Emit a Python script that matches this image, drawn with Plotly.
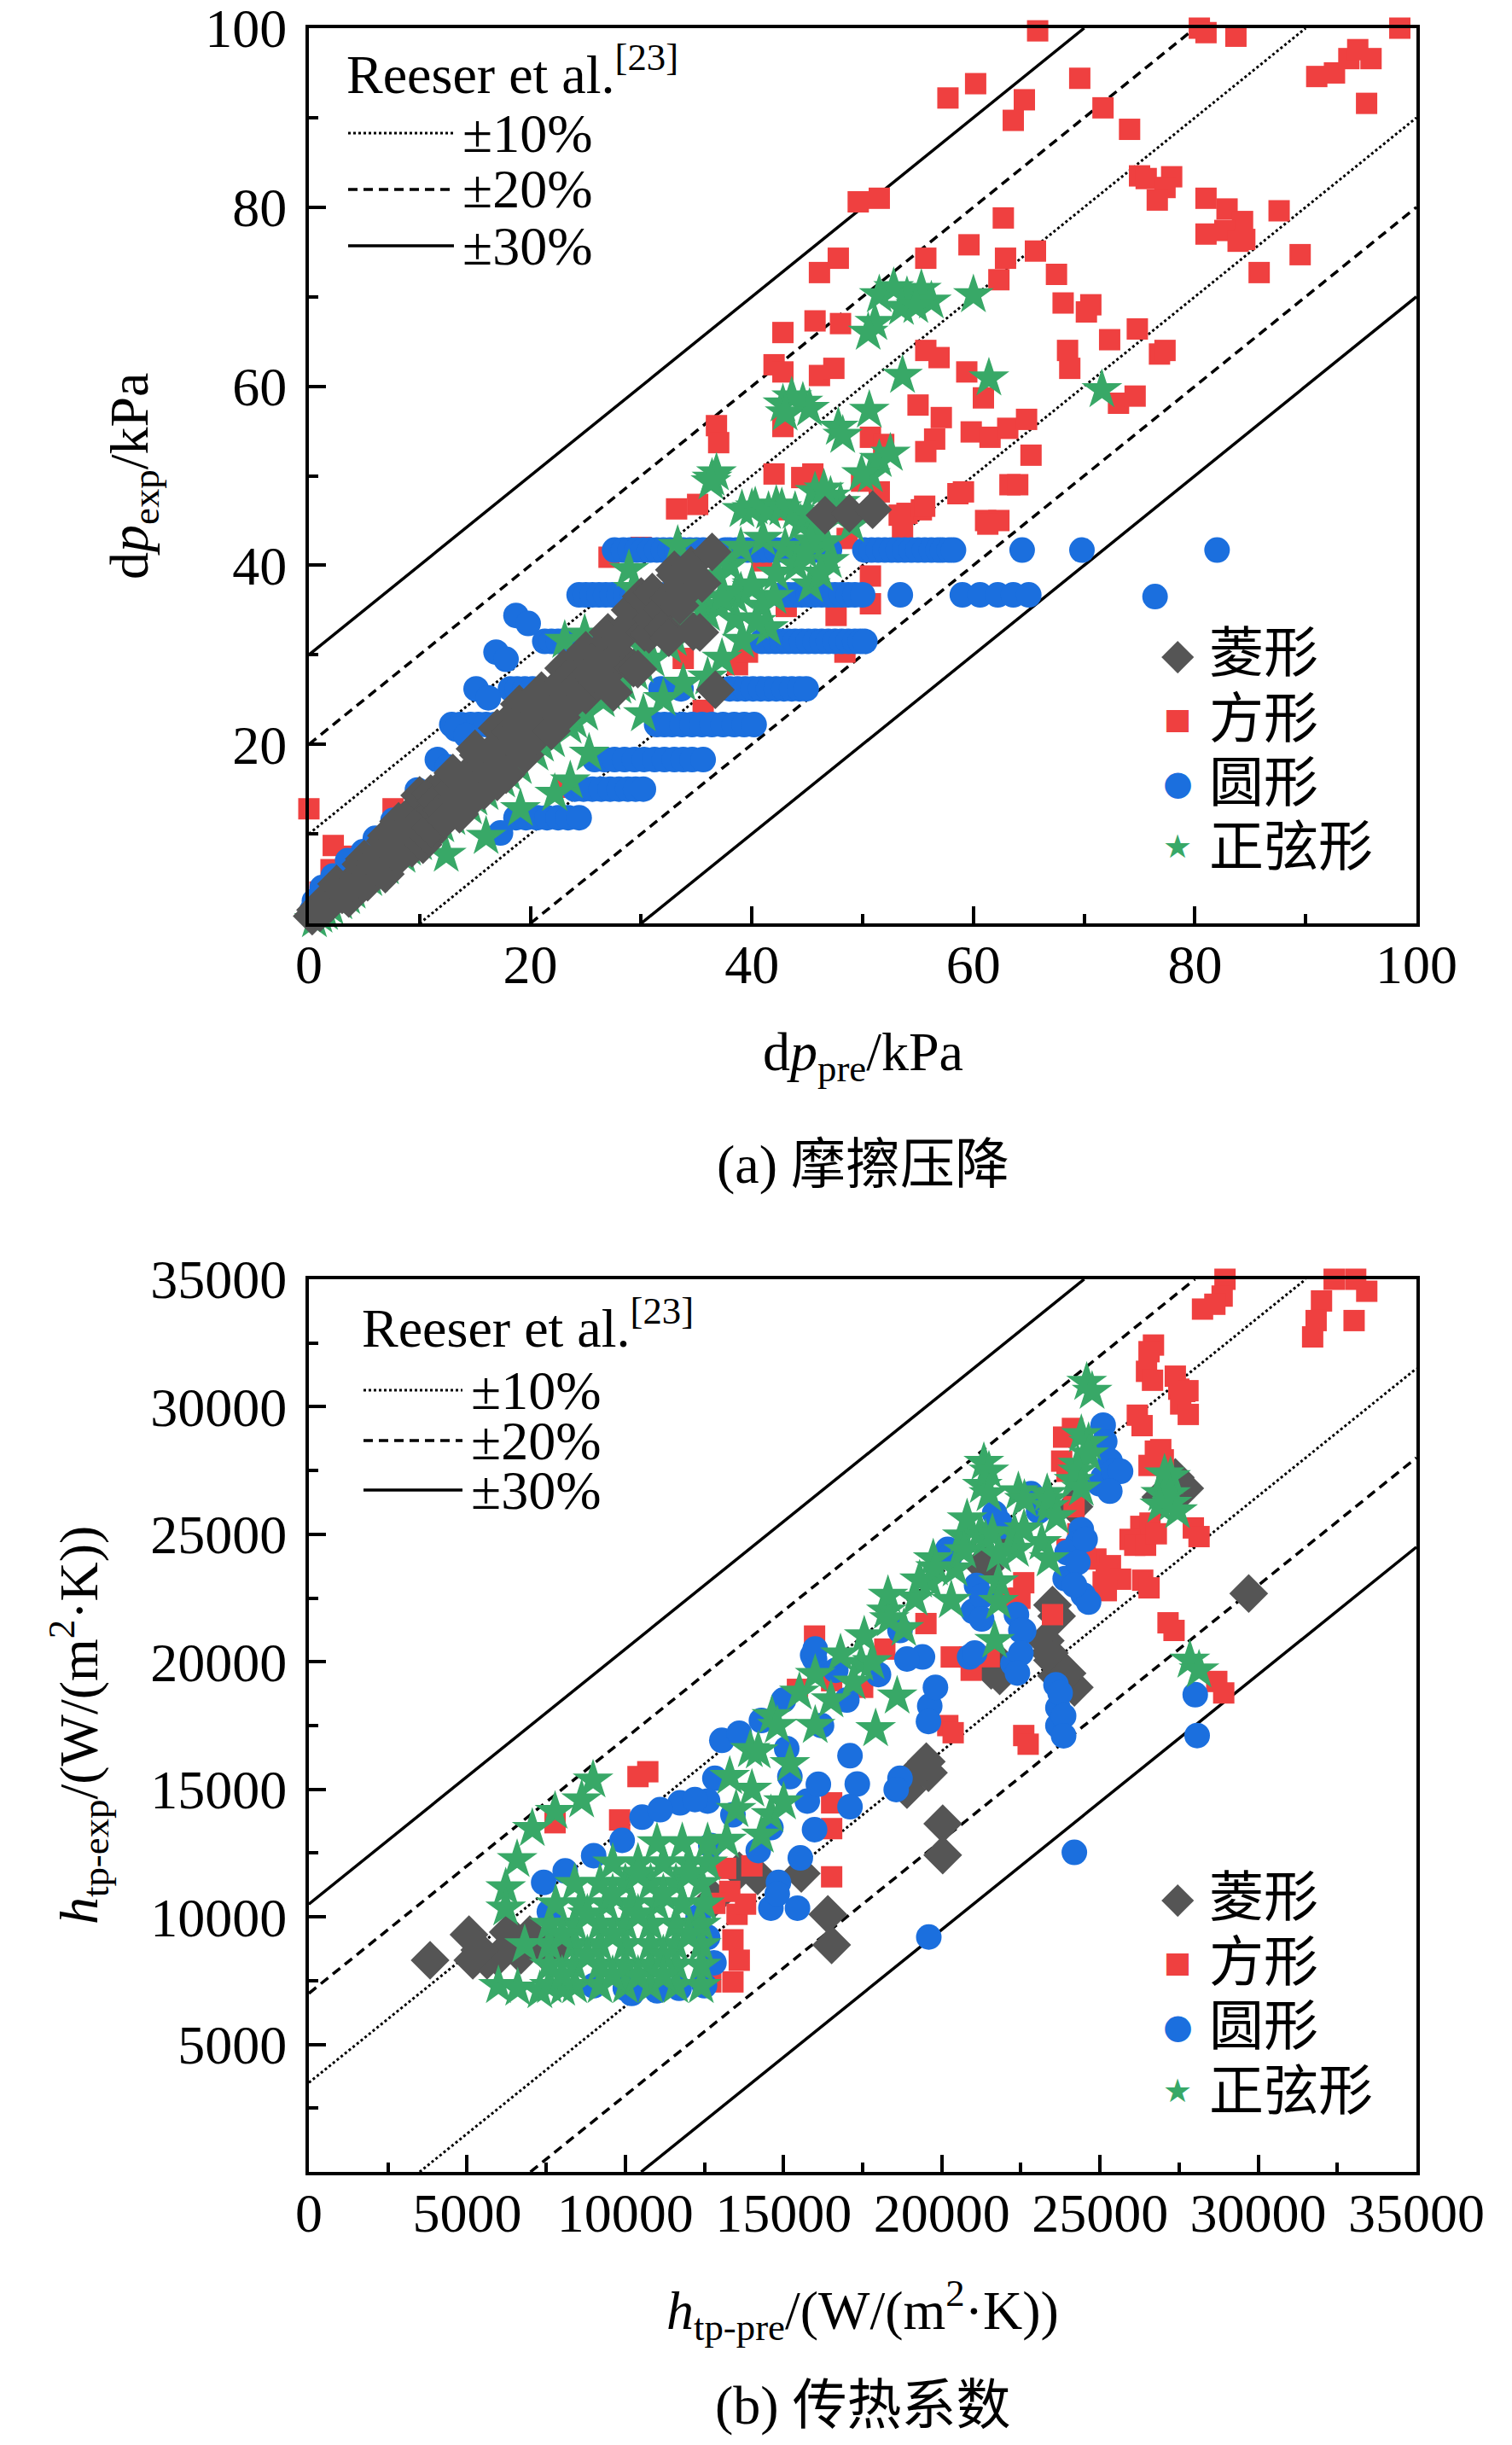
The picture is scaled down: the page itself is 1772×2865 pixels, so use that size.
import plotly.graph_objects as go

# ---------------- data ----------------
# (a) friction pressure drop, kPa  -> (dp_pre, dp_exp)
dp_diamond = [
    (0.3, 0.8), (0.6, 1.5), (1.0, 1.2), (1.3, 2.4), (1.5, 1.8), (1.9, 2.2), (2.0, 2.6), (2.4, 3.0),
    (2.5, 4.4), (3.0, 3.2), (3.2, 3.6), (3.5, 4.2), (3.6, 2.8), (4.0, 4.6), (4.5, 5.0), (4.7, 6.6),
    (5.0, 5.8), (5.0, 7.2), (5.3, 4.6), (5.6, 5.6), (6.0, 6.4), (6.2, 7.0), (6.5, 7.8), (6.9, 5.5),
    (6.9, 9.2), (7.0, 9.8), (7.4, 6.6), (7.5, 8.0), (8.0, 9.4), (8.1, 7.4), (8.1, 11.4), (8.6, 8.2),
    (9.0, 9.8), (9.0, 12.0), (9.3, 8.4), (9.5, 11.5), (9.6, 10.3), (10.0, 14.3), (10.3, 8.8),
    (10.5, 11.8), (10.8, 9.6), (11.0, 10.6), (11.0, 14.5), (11.4, 12.7), (11.5, 13.6), (12.0, 12.6),
    (12.3, 11.6), (12.5, 15.9), (13.0, 15.0), (13.0, 16.8), (13.4, 14.0), (13.6, 12.2), (14.0, 15.8),
    (14.4, 13.5), (14.8, 17.2), (15.0, 19.5), (15.3, 16.2), (15.3, 18.8), (15.8, 14.8), (16.0, 18.0),
    (16.5, 17.0), (16.8, 19.6), (17.0, 15.8), (17.0, 21.8), (17.5, 18.0), (17.8, 19.1), (17.8, 16.6),
    (18.2, 21.4), (18.6, 23.3), (18.8, 20.5), (19.0, 24.5), (19.2, 22.0), (19.5, 18.8), (20.0, 20.2),
    (20.0, 24.0), (20.5, 21.0), (20.8, 23.6), (21.0, 26.0), (21.2, 22.8), (21.5, 25.2), (21.9, 21.5),
    (22.0, 24.5), (22.5, 26.5), (22.8, 23.0), (23.0, 27.0), (23.0, 28.5), (23.5, 25.5), (23.6, 24.5),
    (24.0, 28.2), (24.5, 26.8), (24.7, 30.0), (25.0, 25.5), (25.0, 30.5), (25.5, 29.2), (25.8, 27.4),
    (26.0, 27.0), (26.5, 29.5), (27.0, 28.0), (27.0, 32.5), (27.1, 31.6), (27.5, 25.8), (28.0, 30.0),
    (28.1, 31.9), (29.0, 33.5), (29.0, 35.0), (29.3, 28.5), (29.7, 28.4), (30.0, 36.5), (30.3, 32.5),
    (30.7, 32.3), (31.0, 34.0), (31.0, 37.0), (31.9, 35.1), (32.0, 33.0), (32.5, 36.4), (32.5, 31.9),
    (33.0, 39.5), (33.1, 38.9), (33.5, 35.5), (34.0, 37.0), (34.5, 40.0), (34.7, 32.6), (35.3, 32.5),
    (35.5, 38.0), (36.4, 41.5), (36.7, 26.1), (46.6, 45.6), (48.8, 45.8), (50.9, 46.2),
]
dp_square = [
    (65.8, 99.7), (80.4, 100.0), (81.0, 99.5), (83.7, 99.1), (98.5, 100.0), (91.0, 94.6), (92.6, 95.0),
    (93.9, 96.6), (94.7, 97.6), (95.9, 96.6), (95.5, 91.6), (57.7, 92.2), (60.2, 93.8), (64.6, 92.0),
    (63.6, 89.7), (69.6, 94.4), (71.7, 91.1), (74.1, 88.7), (75.0, 83.5), (75.6, 83.2), (77.9, 83.4),
    (77.3, 82.2), (76.6, 80.8), (81.0, 81.0), (82.9, 79.8), (84.3, 78.4), (81.0, 77.0), (82.7, 77.4),
    (83.9, 76.2), (84.5, 76.4), (87.6, 79.6), (89.5, 74.7), (85.8, 72.7), (49.6, 80.6), (51.5, 81.0),
    (62.7, 78.8), (59.6, 75.8), (55.7, 74.3), (46.1, 72.7), (47.8, 74.3), (62.9, 74.3), (65.6, 75.1),
    (67.5, 72.5), (62.3, 71.9), (68.1, 69.3), (70.2, 68.3), (70.6, 69.1), (42.8, 66.0), (45.7, 67.3),
    (48.0, 67.0), (74.8, 66.4), (72.3, 65.2), (76.8, 63.6), (77.3, 64.0), (68.5, 64.0), (68.7, 62.0),
    (55.7, 64.0), (56.9, 63.2), (59.4, 61.6), (42.0, 62.4), (42.8, 61.6), (46.1, 61.2), (47.4, 62.0),
    (73.1, 58.1), (74.6, 58.9), (60.9, 58.7), (55.0, 57.9), (57.1, 56.5), (42.8, 55.5), (59.8, 54.9),
    (61.5, 54.3), (63.1, 55.3), (64.8, 56.3), (56.5, 54.1), (55.7, 52.7), (50.7, 54.3), (51.9, 53.5),
    (65.2, 52.3), (63.3, 49.0), (58.6, 48.0), (42.0, 50.2), (44.5, 49.8), (45.5, 50.2), (42.8, 46.2),
    (49.9, 49.4), (51.5, 48.2), (61.1, 45.0), (62.3, 45.0), (54.0, 45.8), (55.3, 46.2), (53.6, 44.2),
    (48.6, 43.0), (36.8, 55.6), (37.0, 53.7), (35.1, 46.8), (33.2, 46.3), (27.1, 40.9), (59.1, 48.2),
    (64.0, 49.0), (61.3, 44.6), (53.3, 45.6), (55.6, 46.6), (50.7, 38.8), (50.7, 35.7), (47.6, 34.4),
    (43.1, 35.4), (40.9, 40.5), (38.7, 28.9), (39.6, 30.3), (48.4, 30.3), (33.8, 29.6), (35.6, 23.8),
    (27.1, 30.9), (22.2, 25.1), (2.2, 8.7), (7.6, 12.8), (23.1, 15.2), (0.0, 12.8), (1.0, 3.5),
    (2.0, 6.0), (4.0, 7.5), (30.0, 42.0),
]
dp_circle = [
    # row near 41.7 kPa
    (27.6, 41.7), (28.4, 41.7), (29.0, 41.7), (29.6, 41.7), (30.2, 41.7), (30.8, 41.7), (31.4, 41.7),
    (32.0, 41.7), (32.6, 41.7), (33.2, 41.7), (33.8, 41.7), (34.4, 41.7), (35.0, 41.7), (35.6, 41.7),
    (37.6, 41.7), (38.0, 41.7), (38.6, 41.7), (39.0, 41.7), (39.6, 41.7), (40.4, 41.7), (41.0, 41.7),
    (41.6, 41.7), (42.2, 41.7), (42.8, 41.7), (43.4, 41.7), (44.0, 41.7), (44.6, 41.7), (45.2, 41.7),
    (45.8, 41.7), (46.4, 41.7), (47.0, 41.7), (50.2, 41.7), (50.8, 41.7), (51.4, 41.7), (52.0, 41.7),
    (52.6, 41.7), (53.2, 41.7), (53.8, 41.7), (54.4, 41.7), (55.0, 41.7), (55.6, 41.7), (56.2, 41.7),
    (56.8, 41.7), (57.2, 41.7), (57.8, 41.7), (58.2, 41.7), (64.4, 41.7), (69.8, 41.7), (82.0, 41.7),
    (76.4, 36.5),
    # row near 36.7 kPa
    (24.4, 36.7), (25.0, 36.7), (25.6, 36.7), (26.2, 36.7), (26.8, 36.7), (27.4, 36.7), (28.0, 36.7),
    (28.6, 36.7), (29.2, 36.7), (29.8, 36.7), (30.4, 36.7), (31.0, 36.7), (31.6, 36.7), (32.2, 36.7),
    (32.8, 36.7), (33.4, 36.7), (34.0, 36.7), (34.6, 36.7), (35.0, 36.7), (42.7, 36.7), (43.3, 36.7),
    (43.9, 36.7), (44.5, 36.7), (45.1, 36.7), (45.7, 36.7), (46.3, 36.7), (46.9, 36.7), (47.5, 36.7),
    (48.1, 36.7), (48.7, 36.7), (49.3, 36.7), (50.0, 36.7), (53.4, 36.7), (59.0, 36.7), (60.6, 36.7),
    (62.2, 36.7), (63.6, 36.7), (65.0, 36.7),
    # row near 31.5 kPa
    (21.3, 31.5), (21.9, 31.5), (22.5, 31.5), (23.1, 31.5), (23.7, 31.5), (24.3, 31.5), (25.0, 31.5),
    (25.6, 31.5), (26.2, 31.5), (40.9, 31.5), (41.5, 31.5), (42.1, 31.5), (42.7, 31.5), (43.3, 31.5),
    (43.9, 31.5), (44.5, 31.5), (45.1, 31.5), (45.7, 31.5), (46.3, 31.5), (46.9, 31.5), (47.5, 31.5),
    (48.1, 31.5), (48.7, 31.5), (49.3, 31.5), (49.8, 31.5), (50.2, 31.5),
    # row near 26.2 kPa
    (18.2, 26.2), (18.8, 26.2), (19.5, 26.2), (20.2, 26.2), (20.9, 26.2), (31.8, 26.2), (33.6, 26.2),
    (38.0, 26.2), (38.7, 26.2), (39.4, 26.2), (40.1, 26.2), (40.8, 26.2), (41.5, 26.2), (42.2, 26.2),
    (42.9, 26.2), (43.6, 26.2), (44.3, 26.2), (44.9, 26.2),
    # row near 22.2 kPa
    (12.9, 22.2), (13.7, 22.2), (14.6, 22.2), (15.3, 22.2), (16.0, 22.2), (16.8, 22.2), (17.6, 22.2),
    (31.4, 22.2), (32.1, 22.2), (32.8, 22.2), (33.7, 22.2), (34.6, 22.2), (35.5, 22.2), (36.4, 22.2),
    (37.4, 22.2), (38.4, 22.2), (39.3, 22.2), (40.2, 22.2),
    # row near 18.3 kPa
    (25.8, 18.3), (26.7, 18.3), (27.6, 18.3), (28.5, 18.3), (29.4, 18.3), (30.3, 18.3), (31.2, 18.3),
    (32.1, 18.3), (33.0, 18.3), (33.8, 18.3), (34.6, 18.3), (35.6, 18.3),
    # row near 15.0 kPa
    (24.0, 15.0), (24.8, 15.0), (25.6, 15.0), (26.4, 15.0), (27.2, 15.0), (28.0, 15.0), (28.8, 15.0),
    (29.5, 15.0), (30.2, 15.0),
    # row near 11.8 kPa
    (18.7, 11.8), (19.6, 11.8), (20.6, 11.8), (21.5, 11.8), (22.5, 11.8), (23.4, 11.8), (24.4, 11.8),
    (17.3, 10.1),
    # upper-left edge of the band
    (18.7, 34.4), (19.8, 33.5), (16.9, 30.3), (17.8, 29.5), (15.1, 26.2), (16.2, 25.2), (13.3, 21.7),
    (14.2, 21.0), (11.6, 18.3), (12.5, 17.5), (9.8, 14.9), (10.6, 14.3), (7.6, 11.5), (8.5, 11.0),
    (4.9, 8.0), (6.0, 9.5), (3.5, 7.0), (2.2, 5.3), (1.2, 4.0), (0.5, 2.5), (0.3, 1.5), (1.0, 3.0),
    (2.0, 3.0), (3.0, 4.5), (5.0, 6.5), (7.0, 8.5),
]
dp_sine = [
    (0.5, 0.4), (1.0, 0.9), (1.5, 1.2), (2.0, 1.8), (2.8, 2.4), (3.5, 3.0), (4.0, 3.6), (5.5, 5.0),
    (6.0, 5.5), (7.0, 6.3), (8.5, 7.6), (9.0, 8.4), (10.0, 9.0), (11.5, 10.3), (12.0, 11.0),
    (13.0, 11.8), (14.5, 13.0), (15.0, 14.0), (16.0, 14.6), (17.5, 16.0), (18.0, 16.8), (19.0, 17.5),
    (20.5, 19.0), (21.0, 20.0), (22.0, 20.5), (23.5, 22.0), (24.0, 22.6), (25.0, 23.5), (26.5, 25.0),
    (27.0, 25.8), (28.0, 26.5), (29.5, 28.0), (30.0, 28.8), (31.0, 29.5), (32.5, 31.0), (33.0, 31.8),
    (34.0, 32.5), (35.5, 34.0), (36.0, 34.6), (37.0, 35.5), (38.5, 36.5), (39.0, 37.0), (40.0, 37.5),
    (38.0, 40.0), (39.0, 42.0), (41.0, 43.0), (43.0, 42.0), (44.0, 40.0), (46.0, 44.0), (48.0, 47.0),
    (49.0, 44.5), (47.0, 40.5), (42.0, 36.5), (38.5, 34.0), (41.5, 33.0), (35.0, 36.0), (34.0, 39.0),
    (31.0, 35.0), (33.0, 33.5), (30.0, 31.0), (27.0, 28.5), (26.0, 30.0), (29.0, 33.0),
    (40.0, 46.3), (42.2, 46.7), (44.4, 44.6), (46.7, 42.6), (47.1, 47.7), (33.3, 42.2), (36.4, 49.7),
    (50.7, 50.1), (28.9, 39.5), (29.3, 37.4), (36.9, 38.8), (37.3, 36.4), (40.0, 37.8), (40.9, 35.4),
    (42.2, 39.1), (45.3, 37.8), (46.2, 39.1), (40.4, 33.7), (39.1, 31.6), (37.3, 29.6), (36.0, 27.5),
    (33.8, 26.8), (32.0, 25.1), (30.2, 23.4), (28.4, 26.8), (24.9, 32.3), (23.1, 31.6), (18.2, 22.4),
    (25.3, 19.0), (23.6, 15.9), (22.2, 14.5), (19.1, 12.8), (16.0, 9.7), (12.4, 7.7),
    (51.5, 70.2), (52.8, 71.0), (54.0, 70.0), (55.3, 70.8), (56.2, 69.5), (53.5, 68.8), (54.8, 69.0),
    (51.1, 67.1), (50.5, 66.0), (60.0, 70.2), (53.6, 61.2), (61.4, 60.9), (71.6, 59.6), (42.8, 58.0),
    (43.6, 58.8), (44.6, 58.2), (45.2, 57.5), (43.0, 57.0), (50.6, 57.3), (47.8, 55.4), (48.2, 54.5),
    (51.5, 51.8), (49.9, 50.2), (52.5, 52.5), (39.1, 46.2), (40.3, 46.5), (41.5, 46.0), (42.7, 46.4),
    (43.9, 46.0), (45.0, 45.8), (45.7, 48.2), (46.5, 48.5), (45.3, 42.7), (44.8, 41.5), (36.8, 50.3),
    (36.3, 49.3),
]

# (b) heat transfer coefficient, W/(m2.K)  -> (h_pre, h_exp)
h_diamond = [
    (3830, 8300), (5060, 9300), (5180, 8300), (5630, 8300), (5960, 8400), (5400, 8700), (6300, 9400),
    (6980, 9300), (7430, 8630), (6700, 8500), (8000, 8900), (14180, 11600), (15560, 11700),
    (16400, 10100), (16520, 8900), (19580, 15650), (20030, 13650), (20030, 12420), (18900, 14990),
    (19350, 15880), (29700, 22680), (27680, 26800), (27380, 27230), (23400, 20340), (23630, 19450),
    (24190, 19000), (21710, 20110), (21830, 19450), (21380, 23680), (23630, 21790), (23500, 22230),
    (23270, 20830), (23500, 20060), (23960, 19550), (21560, 19670), (21450, 24030), (24180, 26080),
    (26920, 26460), (19510, 16090), (22000, 25000), (13600, 11800), (12800, 10700),
]
h_square = [
    (28950, 35000), (28860, 34340), (28630, 34020), (28240, 33830), (32000, 34150), (31830, 33380),
    (31720, 32740), (32400, 35000), (33080, 35000), (33430, 34530), (33030, 33380), (26690, 32420),
    (26470, 31390), (27380, 31200), (27490, 30690), (27780, 30630), (27550, 30110), (26180, 29670),
    (24130, 29150), (23790, 27870), (26750, 28260), (26920, 28320), (26290, 25310), (26580, 25440),
    (25950, 24800), (27950, 25250), (24870, 24030), (25330, 23770), (25100, 23130), (26350, 23200),
    (24180, 26080), (27150, 21530), (28690, 19230), (22590, 17110), (20190, 17500), (22590, 23100),
    (23500, 21850), (23960, 24410), (21900, 22490), (22470, 22490), (20880, 20190), (20300, 20190),
    (23850, 28810), (23960, 27470), (24300, 25020), (24530, 24130), (25200, 23460), (25650, 23240),
    (25200, 22790), (26100, 24570), (26440, 24570), (26780, 25020), (26550, 22900), (26550, 27700),
    (27000, 27920), (26330, 29260), (26660, 31040), (26550, 32160), (27680, 30600), (27790, 29700),
    (28130, 24910), (10710, 15690), (10400, 15500), (9820, 13800), (7780, 13690), (15980, 21010),
    (15440, 18920), (16520, 19260), (16520, 14470), (16520, 13460), (16520, 11570), (22730, 16770),
    (20360, 17220), (27340, 21230), (28910, 18780), (13170, 11900), (13300, 11000), (13530, 10100),
    (13400, 9100), (12700, 7450), (13400, 7450), (12830, 10530), (20930, 19670), (21500, 20200),
    (17500, 19000), (18200, 20500), (19500, 21500), (14000, 12000), (13800, 10500), (13600, 8300),
]
h_circle = [
    (25100, 29280), (25150, 28640), (25320, 27870), (25100, 27230), (24980, 26980), (25430, 27470),
    (25650, 27470), (25310, 26690), (21670, 25820), (21900, 25310), (20190, 24410), (24410, 25180),
    (24300, 24670), (23960, 24280), (23900, 23260), (24470, 22620), (22820, 26590), (21100, 23000),
    (20990, 21980), (20880, 20190), (22360, 21850), (22590, 21210), (22250, 19930), (23610, 19100),
    (23670, 18200), (23670, 17500), (28010, 18710), (28070, 17110), (19390, 20190), (19620, 18270),
    (24530, 24800), (24300, 23900), (24640, 22340), (24190, 23010), (21830, 25470), (23060, 25910),
    (20250, 24130), (21260, 22570), (21260, 21680), (21040, 20340), (22500, 21230), (22500, 20340),
    (22390, 19560), (23740, 18780), (23850, 17880), (23850, 17100), (24190, 12530), (19590, 9210),
    (15980, 20110), (16650, 19670), (18680, 21230), (18900, 20110), (19800, 19000), (19580, 17660),
    (17100, 16320), (17330, 15210), (17100, 14320), (18680, 15430), (18560, 14990), (13050, 16920),
    (12830, 15430), (12600, 14540), (11730, 14470), (10530, 13910), (14600, 10340), (15440, 10340),
    (14840, 11350), (7420, 11350), (15750, 14540), (15980, 13420), (15530, 12310), (15920, 20260),
    (8100, 11800), (9000, 12400), (9900, 13000), (11100, 14200), (12200, 14600), (13600, 17200),
    (14300, 17700), (15000, 18500), (16000, 20500), (12500, 7300), (12800, 8200), (12600, 9200),
    (12300, 10000), (11000, 7100), (10000, 7200), (9000, 7300), (14200, 12600), (14600, 13500),
    (15200, 15500), (16200, 17500), (17000, 18500), (18000, 19500), (10200, 7000), (11700, 7200),
    (7600, 10200), (12700, 12800), (13400, 14000), (15100, 16600), (16100, 15200), (14800, 10900),
]
h_sine = [
    (24580, 30950), (21330, 27810), (21280, 26910), (22420, 26660), (23330, 26590), (23390, 26080),
    (24410, 28900), (24300, 27740), (24180, 27100), (21220, 25050), (20650, 24930), (22300, 25050),
    (22360, 24410), (23160, 24670), (23390, 24030), (19730, 24030), (20420, 23640), (19620, 23130),
    (21790, 23130), (21790, 22360), (18250, 21980), (19160, 22490), (27040, 27360), (26920, 26590),
    (27270, 26210), (21670, 20830), (27840, 20060), (17450, 19930), (18590, 18650), (17910, 17370),
    (24750, 30600), (21490, 27470), (21490, 26580), (24640, 28590), (24640, 28140), (24300, 27470),
    (24410, 26800), (27230, 27250), (27230, 26580), (26890, 26140), (27450, 25910), (22610, 26360),
    (23400, 26360), (23630, 25690), (21380, 24800), (21600, 25020), (19800, 23680), (20700, 24350),
    (18340, 21680), (17550, 21010), (14630, 17880), (13950, 16550), (8980, 15360), (8620, 14580),
    (7780, 14130), (7060, 13460), (6580, 12240), (6220, 11130), (6220, 10340), (6820, 8900),
    (5990, 7300), (6600, 7200), (7300, 7100), (8020, 7200), (28130, 19670),
    # main cluster
    (7600, 7300), (8400, 7300), (9200, 7300), (10000, 7300), (10800, 7300), (11600, 7300), (12400, 7300),
    (7600, 8100), (8400, 8100), (9200, 8100), (10000, 8100), (10800, 8100), (11600, 8100), (12400, 8100),
    (7600, 8900), (8400, 8900), (9200, 8900), (10000, 8900), (10800, 8900), (11600, 8900), (12400, 8900),
    (7600, 9700), (8400, 9700), (9200, 9700), (10000, 9700), (10800, 9700), (11600, 9700), (12400, 9700),
    (7800, 10500), (8600, 10500), (9400, 10500), (10200, 10500), (11000, 10500), (11800, 10500),
    (12500, 10500), (8400, 11300), (9200, 11300), (10000, 11300), (10800, 11300), (11600, 11300),
    (12400, 11300), (9600, 12100), (10400, 12100), (11200, 12100), (12000, 12100), (12600, 12100),
    (11000, 12900), (11800, 12900), (12600, 12900), (8000, 7700), (8800, 8500), (9600, 9300),
    (10400, 10100), (11200, 10900), (12000, 11700), (8800, 10100), (9600, 10900), (10400, 11700),
    (11200, 8500), (12000, 9300), (10400, 7700), (9600, 7700), (11200, 7700), (8000, 9300),
    # band towards the upper right
    (13200, 13000), (13500, 14200), (13300, 15500), (14000, 15000), (14200, 16500), (14600, 14000),
    (14800, 17500), (15200, 16000), (15500, 18800), (16000, 17500), (16000, 19500), (16500, 18500),
    (16800, 20300), (17200, 19200), (17800, 20000), (18300, 22600), (18800, 21300), (19300, 23200),
    (20300, 22400), (20800, 25600), (21800, 24200), (22600, 25200), (15000, 14500), (14300, 13200),
]

shape_names = ["菱形", "方形", "圆形", "正弦形"]
band_labels = ["±10%", "±20%", "±30%"]
dp_bands = [10, 20, 30]          # kPa, 10/20/30 % of full scale
h_bands = [3500, 7000, 10500]    # W/(m2.K)
dp_max = 100
h_max = 35000

# ---------------- styling ----------------
W, H = 1756, 2849                 # page is 1772x2865 with 8px body margin


def fx(px):
    return (px - 8) / W


def fy(py):
    return 1 - (py - 8) / H


FONT = "Liberation Serif, Noto Sans CJK SC, serif"
FS = 64
colors = {"菱形": "#555555", "方形": "#ef4040", "圆形": "#1b6fde", "正弦形": "#38a867"}
symbols = {"菱形": "diamond", "方形": "square", "圆形": "circle", "正弦形": "star"}
sizes = {"菱形": 35, "方形": 25, "圆形": 30, "正弦形": 36}
glyphs = {"菱形": ("◆", 50), "方形": ("■", 34), "圆形": ("●", 40), "正弦形": ("★", 38)}
band_dash = {10: "3px,3px", 20: "11px,7px", 30: "solid"}

fig = go.Figure()


def add_points(data, name, xa, ya):
    fig.add_trace(go.Scatter(
        x=[p[0] for p in data], y=[p[1] for p in data], mode="markers", name=name,
        marker=dict(symbol=symbols[name], size=sizes[name], color=colors[name], line=dict(width=0)),
        xaxis=xa, yaxis=ya, cliponaxis=False, showlegend=False,
    ))


def add_bands(bands, top, xa, ya):
    for b, pct in zip(bands, [10, 20, 30]):
        style = dict(color="black", width=3.5 if pct != 10 else 3, dash=band_dash[pct])
        fig.add_trace(go.Scatter(x=[0, top - b], y=[b, top], mode="lines", line=style,
                                 xaxis=xa, yaxis=ya, showlegend=False, hoverinfo="skip"))
        fig.add_trace(go.Scatter(x=[b, top], y=[0, top - b], mode="lines", line=style,
                                 xaxis=xa, yaxis=ya, showlegend=False, hoverinfo="skip"))


# panel (a): squares at the back, diamonds on top
add_bands(dp_bands, dp_max, "x", "y")
add_points(dp_square, "方形", "x", "y")
add_points(dp_circle, "圆形", "x", "y")
add_points(dp_sine, "正弦形", "x", "y")
add_points(dp_diamond, "菱形", "x", "y")

# panel (b)
add_bands(h_bands, h_max, "x2", "y2")
add_points(h_diamond, "菱形", "x2", "y2")
add_points(h_square, "方形", "x2", "y2")
add_points(h_circle, "圆形", "x2", "y2")
add_points(h_sine, "正弦形", "x2", "y2")

axis_common = dict(
    showline=True, mirror=True, linecolor="black", linewidth=4, ticks="inside", ticklen=20,
    tickwidth=3.5, tickcolor="black", showgrid=False, zeroline=False, automargin=False,
    ticklabeloverflow="allow", tickfont=dict(family=FONT, size=FS, color="black"),
)
minor_common = dict(ticks="inside", ticklen=11, tickwidth=3.5, tickcolor="black", tick0=0)
dp_ticks = list(range(0, dp_max + 1, 20))
h_ticks = list(range(0, h_max + 1, 5000))

X0, X1 = 362, 1660                # plot frame left/right (page px)
fig.update_layout(
    width=W, height=H, autosize=False,
    margin=dict(l=0, r=0, t=0, b=0),
    paper_bgcolor="white", plot_bgcolor="white",
    font=dict(family=FONT, size=FS, color="black"),
    xaxis=dict(axis_common, domain=[fx(X0), fx(X1)], range=[0, dp_max], anchor="y",
               tickvals=dp_ticks, ticktext=[str(v) for v in dp_ticks], ticklabelstandoff=-11,
               minor=dict(minor_common, dtick=10)),
    yaxis=dict(axis_common, domain=[fy(1082), fy(33)], range=[0, dp_max], anchor="x",
               tickvals=dp_ticks[1:], ticktext=[str(v) for v in dp_ticks[1:]], ticklabelstandoff=9,
               minor=dict(minor_common, dtick=10)),
    xaxis2=dict(axis_common, domain=[fx(X0), fx(X1)], range=[0, h_max], anchor="y2",
                tickvals=h_ticks, ticktext=[str(v) for v in h_ticks], ticklabelstandoff=-11,
                minor=dict(minor_common, dtick=2500)),
    yaxis2=dict(axis_common, domain=[fy(2545), fy(1499)], range=[0, h_max], anchor="x2",
                tickvals=h_ticks[1:], ticktext=[str(v) for v in h_ticks[1:]], ticklabelstandoff=9,
                minor=dict(minor_common, dtick=2500)),
)

ann = []
shapes = []


def text(x, y, t, size=FS, xanchor="left", angle=0, color="black", family=FONT):
    ann.append(dict(x=fx(x), y=fy(y), xref="paper", yref="paper", text=t, showarrow=False,
                    xanchor=xanchor, yanchor="middle", textangle=angle,
                    font=dict(family=family, size=size, color=color)))


# axis titles and captions
xc = (X0 + X1) / 2
text(156, 558, "d<i>p</i><sub>exp</sub>/kPa", xanchor="center", angle=-90)
text(xc, 1237, "d<i>p</i><sub>pre</sub>/kPa", xanchor="center")
text(xc, 1364, "(a) 摩擦压降", xanchor="center")
text(92, 2022, "<i>h</i><sub>tp-exp</sub>/(W/(m<sup>2</sup>·K))", xanchor="center", angle=-90)
text(xc, 2707, "<i>h</i><sub>tp-pre</sub>/(W/(m<sup>2</sup>·K))", xanchor="center")
text(xc, 2818, "(b) 传热系数", xanchor="center")

# line legends (Reeser et al. bands)
for (lx0, lx1, tx, ty, rows) in [(408, 532, 404, 82, [156, 222, 288]),
                                 (426, 542, 422, 1552, [1629, 1688, 1746])]:
    text(tx, ty, "Reeser et al.<sup>[23]</sup>")
    for lab, pct, ry in zip(band_labels, [10, 20, 30], rows):
        shapes.append(dict(type="line", xref="paper", yref="paper", x0=fx(lx0), x1=fx(lx1),
                           y0=fy(ry), y1=fy(ry),
                           line=dict(color="black", width=3.5 if pct != 10 else 3, dash=band_dash[pct])))
        text(lx1 + 8, ry, lab)

# marker legends
for rows in [[766, 842, 917, 992], [2223, 2299, 2374, 2450]]:
    for name, ry in zip(shape_names, rows):
        g, gs = glyphs[name]
        text(1380, ry, g, size=gs, xanchor="center", color=colors[name], family="DejaVu Sans")
        text(1415, ry, name)

fig.update_layout(annotations=ann, shapes=shapes)
fig.write_html("out.html")
